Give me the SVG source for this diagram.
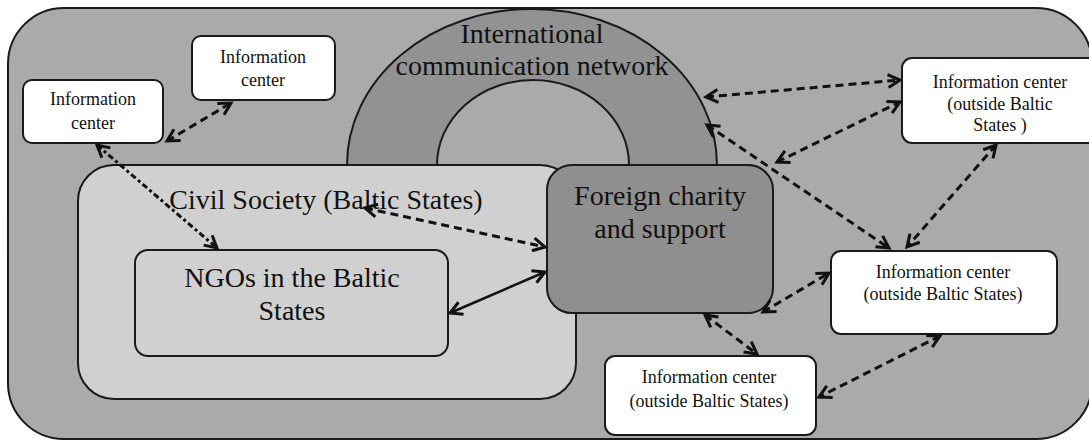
<svg xmlns="http://www.w3.org/2000/svg" width="1089" height="441" viewBox="0 0 1089 441">
<style>
.frame{stroke:#1a1a1a;stroke-width:2}
.big{font-family:"Liberation Serif","Times New Roman",serif;font-size:28px;fill:#111;text-anchor:middle}
.small{font-family:"Liberation Serif","Times New Roman",serif;font-size:18px;fill:#111;text-anchor:middle}
.info{fill:#ffffff}
.dash{fill:none;stroke:#111;stroke-width:3;stroke-dasharray:8 5;marker-start:url(#ah);marker-end:url(#ah)}
.dot{fill:none;stroke:#111;stroke-width:3;stroke-dasharray:6 3 3 3;marker-start:url(#ah);marker-end:url(#ah)}
.solid{fill:none;stroke:#111;stroke-width:2.5;marker-start:url(#ah);marker-end:url(#ah)}
</style>
<defs>
<marker id="ah" markerUnits="userSpaceOnUse" markerWidth="16" markerHeight="16" refX="13" refY="8" orient="auto-start-reverse">
<path d="M1,1.5 L13,8 L1,14.5" fill="none" stroke="#111" stroke-width="3"/>
</marker>
</defs>
<rect width="1089" height="441" fill="#ffffff"/>
<g id="outer"><rect x="8" y="8" width="1084" height="431" rx="56" ry="56" fill="#a9aaa9" class="frame"/></g>
<g id="network">
<path d="M347,165 A185,156 0 0 1 717,165 L629,165 A96,85 0 0 0 437,165 Z" fill="#929292" class="frame" stroke-width="1.5"/>
<text class="big" x="532" y="43">International</text>
<text class="big" x="532" y="75">communication network</text>
</g>
<g id="civil">
<rect x="78" y="165" width="498" height="234" rx="36" ry="36" fill="#d0d0d0" class="frame"/>
<text class="big" x="326" y="209">Civil Society (Baltic States)</text>
</g>
<g id="ngos">
<rect x="135" y="250" width="313" height="106" rx="13" ry="13" fill="#d0d0d0" class="frame"/>
<text class="big" x="292" y="287">NGOs in the Baltic</text>
<text class="big" x="292" y="320">States</text>
</g>
<g id="foreign">
<rect x="547" y="165" width="226" height="148" rx="25" ry="25" fill="#8f8f8f" class="frame"/>
<text class="big" x="660" y="205">Foreign charity</text>
<text class="big" x="660" y="238">and support</text>
</g>
<g id="info1">
<rect x="23" y="80" width="140" height="63" rx="9" ry="9" class="info frame"/>
<text class="small" x="93" y="105">Information</text>
<text class="small" x="93" y="129">center</text>
</g>
<g id="info2">
<rect x="192" y="36" width="143" height="64" rx="9" ry="9" class="info frame"/>
<text class="small" x="263" y="63">Information</text>
<text class="small" x="263" y="86">center</text>
</g>
<g id="info3">
<rect x="902" y="58" width="196" height="85" rx="10" ry="10" class="info frame"/>
<text class="small" x="1000" y="88">Information center</text>
<text class="small" x="1000" y="110">(outside Baltic</text>
<text class="small" x="1000" y="131">States )</text>
</g>
<g id="info4">
<rect x="831" y="251" width="226" height="83" rx="10" ry="10" class="info frame"/>
<text class="small" x="943" y="278">Information center</text>
<text class="small" x="943" y="300">(outside Baltic States)</text>
</g>
<g id="info5">
<rect x="605" y="356" width="211" height="79" rx="10" ry="10" class="info frame"/>
<text class="small" x="709" y="383">Information center</text>
<text class="small" x="709" y="407">(outside Baltic States)</text>
</g>
<g id="connectors">
<line class="dash" x1="167" y1="141" x2="231" y2="103"/>
<line class="dot" x1="97" y1="145" x2="217" y2="248"/>
<line class="dash" x1="365" y1="208" x2="545" y2="247"/>
<line class="solid" x1="450" y1="313" x2="545" y2="272"/>
<line class="dash" x1="706" y1="97" x2="900" y2="80"/>
<line class="dash" x1="707" y1="125" x2="889" y2="248"/>
<line class="dash" x1="777" y1="162" x2="900" y2="102"/>
<line class="dash" x1="996" y1="145" x2="907" y2="247"/>
<line class="dash" x1="763" y1="312" x2="829" y2="273"/>
<line class="dash" x1="705" y1="315" x2="757" y2="354"/>
<line class="dash" x1="940" y1="336" x2="819" y2="397"/>
</g>
</svg>
